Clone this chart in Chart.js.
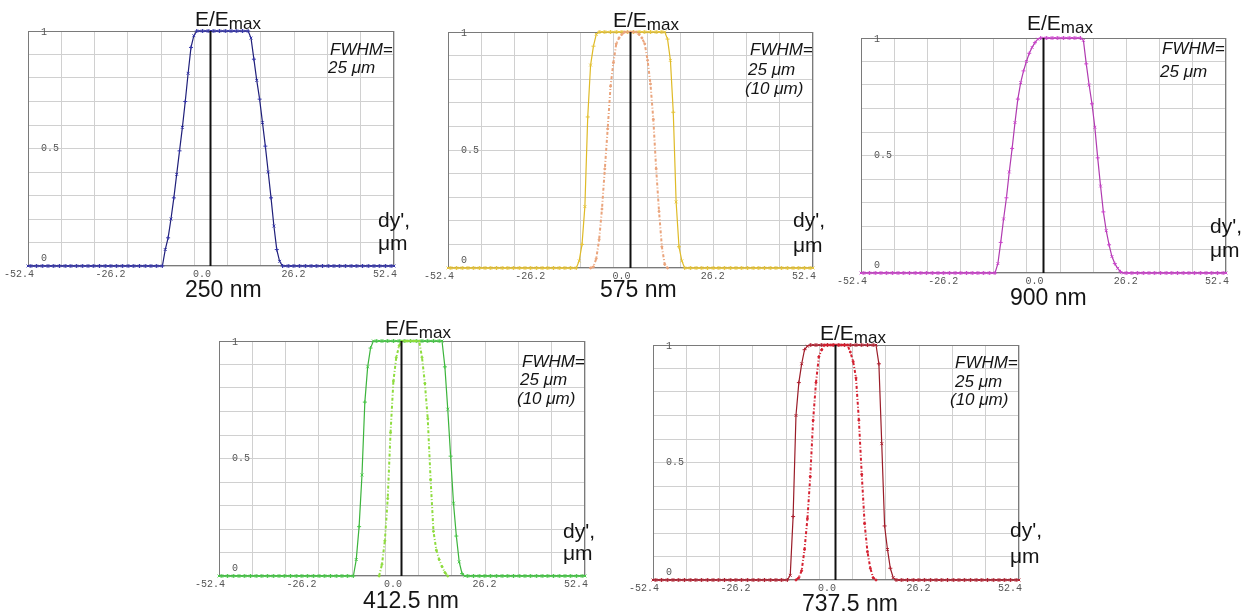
<!DOCTYPE html>
<html><head><meta charset="utf-8">
<script src="https://cdn.jsdelivr.net/npm/chart.js@4/dist/chart.umd.min.js"></script>
<style>
html,body{margin:0;padding:0;background:#fff;width:1247px;height:613px;overflow:hidden;font-family:"Liberation Sans",Arial,sans-serif}
canvas{position:absolute}
.t{position:absolute;white-space:nowrap;line-height:1;color:#151515}
</style></head><body>
<script>
// sample positions dy', um
const dy = [-52.40,-51.58,-50.76,-49.94,-49.13,-48.31,-47.49,-46.67,-45.85,-45.03,-44.21,-43.39,-42.58,-41.76,-40.94,-40.12,
-39.30,-38.48,-37.66,-36.84,-36.03,-35.21,-34.39,-33.57,-32.75,-31.93,-31.11,-30.29,-29.48,-28.66,-27.84,-27.02,
-26.20,-25.38,-24.56,-23.74,-22.93,-22.11,-21.29,-20.47,-19.65,-18.83,-18.01,-17.19,-16.38,-15.56,-14.74,-13.92,
-13.10,-12.28,-11.46,-10.64,-9.83,-9.01,-8.19,-7.37,-6.55,-5.73,-4.91,-4.09,-3.28,-2.46,-1.64,-0.82,
0.00,0.82,1.64,2.46,3.28,4.09,4.91,5.73,6.55,7.37,8.19,9.01,9.83,10.64,11.46,12.28,
13.10,13.92,14.74,15.56,16.38,17.19,18.01,18.83,19.65,20.47,21.29,22.11,22.93,23.74,24.56,25.38,
26.20,27.02,27.84,28.66,29.48,30.29,31.11,31.93,32.75,33.57,34.39,35.21,36.03,36.84,37.66,38.48,
39.30,40.12,40.94,41.76,42.58,43.39,44.21,45.03,45.85,46.67,47.49,48.31,49.13,49.94,50.76,51.58,
52.40];

const xTickValues = [-52.4,-26.2,0,26.2,52.4];
const xTickLabels = ['-52.4','-26.2','0.0','26.2','52.4'];
const yTickValues = [0,0.5,1];
const yTickLabels = ['0','0.5','1'];
const gridX = [-52.4,-42.87,-33.35,-23.82,-14.29,-4.76,4.76,14.29,23.82,33.35,42.87,52.4];
const wavelengths = ['250 nm','575 nm','900 nm','412.5 nm','737.5 nm'];

const e250 = [0,0,0,0,0,0,0,0,0,0,0,0,0,0,0,0,
0,0,0,0,0,0,0,0,0,0,0,0,0,0,0,0,
0,0,0,0,0,0,0,0,0,0,0,0,0,0,0,0,
0.07,0.12,0.20,0.29,0.39,0.49,0.59,0.70,0.82,0.93,0.98,1,1,1,1,1,
1,1,1,1,1,1,1,1,1,1,1,1,1,1,0.97,0.88,
0.79,0.71,0.61,0.51,0.40,0.29,0.17,0.07,0.02,0,0,0,0,0,0,0,
0,0,0,0,0,0,0,0,0,0,0,0,0,0,0,0,
0,0,0,0,0,0,0,0,0,0,0,0,0,0,0,0,
0];

const e575 = [0,0,0,0,0,0,0,0,0,0,0,0,0,0,0,0,
0,0,0,0,0,0,0,0,0,0,0,0,0,0,0,0,
0,0,0,0,0,0,0,0,0,0,0,0,0,0,0.03,0.10,
0.26,0.64,0.86,0.94,0.99,1,1,1,1,1,1,1,1,1,1,1,
1,1,1,1,1,1,1,1,1,1,1,1,1,0.97,0.88,0.66,
0.28,0.09,0.03,0,0,0,0,0,0,0,0,0,0,0,0,0,
0,0,0,0,0,0,0,0,0,0,0,0,0,0,0,0,
0,0,0,0,0,0,0,0,0,0,0,0,0,0,0,0,
0];

const e575n = [null,null,null,null,null,null,null,null,null,null,null,null,null,null,null,null,
null,null,null,null,null,null,null,null,null,null,null,null,null,null,null,null,
null,null,null,null,null,null,null,null,null,null,null,null,null,null,null,null,
null,null,0,0.005,0.04,0.12,0.25,0.42,0.59,0.77,0.87,0.95,0.975,0.99,1,1,
1,1,1,0.99,0.975,0.95,0.88,0.78,0.63,0.42,0.24,0.09,0.015,0,null,null,
null,null,null,null,null,null,null,null,null,null,null,null,null,null,null,null,
null,null,null,null,null,null,null,null,null,null,null,null,null,null,null,null,
null,null,null,null,null,null,null,null,null,null,null,null,null,null,null,null,
null];

const e900 = [0,0,0,0,0,0,0,0,0,0,0,0,0,0,0,0,
0,0,0,0,0,0,0,0,0,0,0,0,0,0,0,0,
0,0,0,0,0,0,0,0,0,0,0,0,0,0,0,0,
0.04,0.13,0.23,0.32,0.43,0.53,0.64,0.74,0.81,0.86,0.90,0.935,0.96,0.98,0.995,1,
1,1,1,1,1,1,1,1,1,1,1,1,1,1,0.99,0.89,
0.80,0.72,0.62,0.49,0.37,0.26,0.18,0.12,0.07,0.04,0.02,0.005,0,0,0,0,
0,0,0,0,0,0,0,0,0,0,0,0,0,0,0,0,
0,0,0,0,0,0,0,0,0,0,0,0,0,0,0,0,
0];

const e412 = [0,0,0,0,0,0,0,0,0,0,0,0,0,0,0,0,
0,0,0,0,0,0,0,0,0,0,0,0,0,0,0,0,
0,0,0,0,0,0,0,0,0,0,0,0,0,0,0,0,
0.07,0.21,0.43,0.74,0.89,0.97,1,1,1,1,1,1,1,1,1,1,
1,1,1,1,1,1,1,1,1,1,1,1,1,1,1,0.89,
0.71,0.51,0.31,0.17,0.06,0.01,0,0,0,0,0,0,0,0,0,0,
0,0,0,0,0,0,0,0,0,0,0,0,0,0,0,0,
0,0,0,0,0,0,0,0,0,0,0,0,0,0,0,0,
0];

const e412n = [null,null,null,null,null,null,null,null,null,null,null,null,null,null,null,null,
null,null,null,null,null,null,null,null,null,null,null,null,null,null,null,null,
null,null,null,null,null,null,null,null,null,null,null,null,null,null,null,null,
null,null,null,null,null,null,null,null,0,0.05,0.15,0.33,0.61,0.83,0.93,0.98,
1,1,1,1,1,1,1,0.93,0.82,0.67,0.41,0.19,0.11,0.07,0.04,0.015,
0,null,null,null,null,null,null,null,null,null,null,null,null,null,null,null,
null,null,null,null,null,null,null,null,null,null,null,null,null,null,null,null,
null,null,null,null,null,null,null,null,null,null,null,null,null,null,null,null,
null];

const e737 = [0,0,0,0,0,0,0,0,0,0,0,0,0,0,0,0,
0,0,0,0,0,0,0,0,0,0,0,0,0,0,0,0,
0,0,0,0,0,0,0,0,0,0,0,0,0,0,0,0,
0.02,0.27,0.70,0.84,0.92,0.98,0.995,1,1,1,1,1,1,1,1,1,
1,1,1,1,1,1,1,1,1,1,1,1,1,1,1,0.92,
0.58,0.23,0.13,0.05,0.01,0,0,0,0,0,0,0,0,0,0,0,
0,0,0,0,0,0,0,0,0,0,0,0,0,0,0,0,
0,0,0,0,0,0,0,0,0,0,0,0,0,0,0,0,
0];

const e737n = [null,null,null,null,null,null,null,null,null,null,null,null,null,null,null,null,
null,null,null,null,null,null,null,null,null,null,null,null,null,null,null,null,
null,null,null,null,null,null,null,null,null,null,null,null,null,null,null,null,
null,null,0,0.01,0.04,0.13,0.26,0.44,0.68,0.84,0.95,0.98,1,1,1,1,
1,1,1,1,1,0.97,0.93,0.86,0.68,0.45,0.24,0.12,0.05,0.01,0,null,
null,null,null,null,null,null,null,null,null,null,null,null,null,null,null,null,
null,null,null,null,null,null,null,null,null,null,null,null,null,null,null,null,
null,null,null,null,null,null,null,null,null,null,null,null,null,null,null,null,
null];

// ---- layout (positions / styles) ----
const panels = [
 {L:28,T:31,R:394,B:266, wl:0, title:[195,26], fw:[[330,55,'FWHM='],[328,73,'25 μm']], dyp:[378,227,250], wlp:[185,297],
  series:[{d:e250,c:'#1f1f7a',p:'#3535aa'}]},
 {L:448,T:32,R:813,B:268, wl:1, title:[613,27], fw:[[750,55,'FWHM='],[748,75,'25 μm'],[745,94,'(10 μm)']], dyp:[793,227,252], wlp:[600,297],
  series:[{d:e575n,c:'#eaa47c',p:'#eaa47c',inner:true},{d:e575,c:'#dfba26',p:'#e6c43a'}]},
 {L:861,T:38,R:1226,B:273, wl:2, title:[1027,30], fw:[[1162,54,'FWHM='],[1160,77,'25 μm']], dyp:[1210,233,257], wlp:[1010,305],
  series:[{d:e900,c:'#b03ab0',p:'#cc44cc'}]},
 {L:219,T:341,R:585,B:576, wl:3, title:[385,335], fw:[[522,367,'FWHM='],[520,385,'25 μm'],[517,404,'(10 μm)']], dyp:[563,538,560], wlp:[363,608],
  series:[{d:e412n,c:'#8edc3e',p:'#8edc3e',inner:true},{d:e412,c:'#3cb43c',p:'#46c846'}]},
 {L:653,T:345,R:1019,B:580, wl:4, title:[820,340], fw:[[955,368,'FWHM='],[955,387,'25 μm'],[950,405,'(10 μm)']], dyp:[1010,537,563], wlp:[802,611],
  series:[{d:e737n,c:'#d42030',p:'#d42030',inner:true},{d:e737,c:'#9a1c28',p:'#b02030'}]}
];

const deco = {
  id:'deco',
  beforeDatasetsDraw(chart){
    const {ctx, chartArea:a} = chart;
    ctx.save();
    ctx.strokeStyle='#7a7a7a'; ctx.lineWidth=1;
    ctx.strokeRect(a.left+0.5, a.top+0.5, a.width-1, a.height-1);
    ctx.restore();
  },
  afterDatasetsDraw(chart){
    const {ctx, chartArea:a, scales:{x}} = chart;
    const px = Math.round(x.getPixelForValue(0));
    ctx.save();
    ctx.strokeStyle='#111'; ctx.lineWidth=2;
    ctx.beginPath(); ctx.moveTo(px-0.5, a.top); ctx.lineTo(px-0.5, a.bottom); ctx.stroke();
    ctx.restore();
  },
  afterDraw(chart){
    const {ctx, chartArea:a, scales:{x,y}} = chart;
    ctx.save();
    ctx.font='10px "Liberation Mono", "DejaVu Sans Mono", monospace';
    ctx.fillStyle='#555';
    ctx.textAlign='center'; ctx.textBaseline='top';
    xTickValues.forEach((v,i)=>{ ctx.fillText(xTickLabels[i], x.getPixelForValue(v)-9, a.bottom+3); });
    ctx.textAlign='left'; ctx.textBaseline='middle';
    yTickValues.forEach((v,i)=>{
      let py = y.getPixelForValue(v);
      if (v===0) py -= 8; else if (v===1) py += 1;
      ctx.fillText(yTickLabels[i], a.left+13, py);
    });
    ctx.restore();
  }
};

const PL=32, PR=14, PT=6, PB=20;
function addText(html, x, base, size, extra){
  const d=document.createElement('div');
  d.className='t';
  d.style.left=x+'px';
  d.style.top=(base-0.8465*size)+'px';
  d.style.fontSize=size+'px';
  if(extra) Object.assign(d.style, extra);
  d.innerHTML=html;
  document.body.appendChild(d);
}

panels.forEach(p=>{
  const cv=document.createElement('canvas');
  const w=(p.R-p.L)+PL+PR, h=(p.B-p.T)+PT+PB;
  cv.width=w; cv.height=h;
  cv.style.left=(p.L-PL)+'px'; cv.style.top=(p.T-PT)+'px';
  cv.style.width=w+'px'; cv.style.height=h+'px';
  document.body.appendChild(cv);
  const datasets = p.series.map(s=>({
    data: dy.map((xv,i)=>({x:xv, y:s.d[i]})),
    borderColor:s.c,
    borderWidth: s.inner?2:1.2,
    borderDash: s.inner?[3,2,1,2]:[],
    pointRadius: s.inner?1:2,
    pointStyle: s.inner?'circle':(ctx=>ctx.dataIndex%2?'cross':'crossRot'),
    pointBorderColor:s.p,
    pointBackgroundColor:s.p,
    pointBorderWidth:1,
    tension:0, spanGaps:false, clip:6
  }));
  new Chart(cv,{
    type:'line',
    data:{datasets},
    options:{
      responsive:false, animation:false, devicePixelRatio:1, events:[],
      layout:{padding:{left:PL,right:PR,top:PT,bottom:PB}, autoPadding:false},
      plugins:{legend:{display:false}, tooltip:{enabled:false}},
      scales:{
        x:{type:'linear', min:-52.4, max:52.4,
           afterBuildTicks:s=>{ s.ticks = gridX.map(v=>({value:v})); },
           ticks:{display:false}, grid:{color:'#d0d0d0', drawTicks:false}, border:{display:false}},
        y:{type:'linear', min:0, max:1, ticks:{display:false, stepSize:0.1},
           grid:{color:'#d0d0d0', drawTicks:false}, border:{display:false}}
      }
    },
    plugins:[deco]
  });
  addText('E/E<span style="font-size:17px;position:relative;top:3px">max</span>', p.title[0], p.title[1], 21);
  p.fw.forEach(f=>addText(f[2], f[0], f[1], 17, {fontStyle:'italic'}));
  addText("dy',", p.dyp[0], p.dyp[1], 21);
  addText('μm', p.dyp[0], p.dyp[2], 21);
  addText(wavelengths[p.wl], p.wlp[0], p.wlp[1], 23);
});
</script>
</body></html>
